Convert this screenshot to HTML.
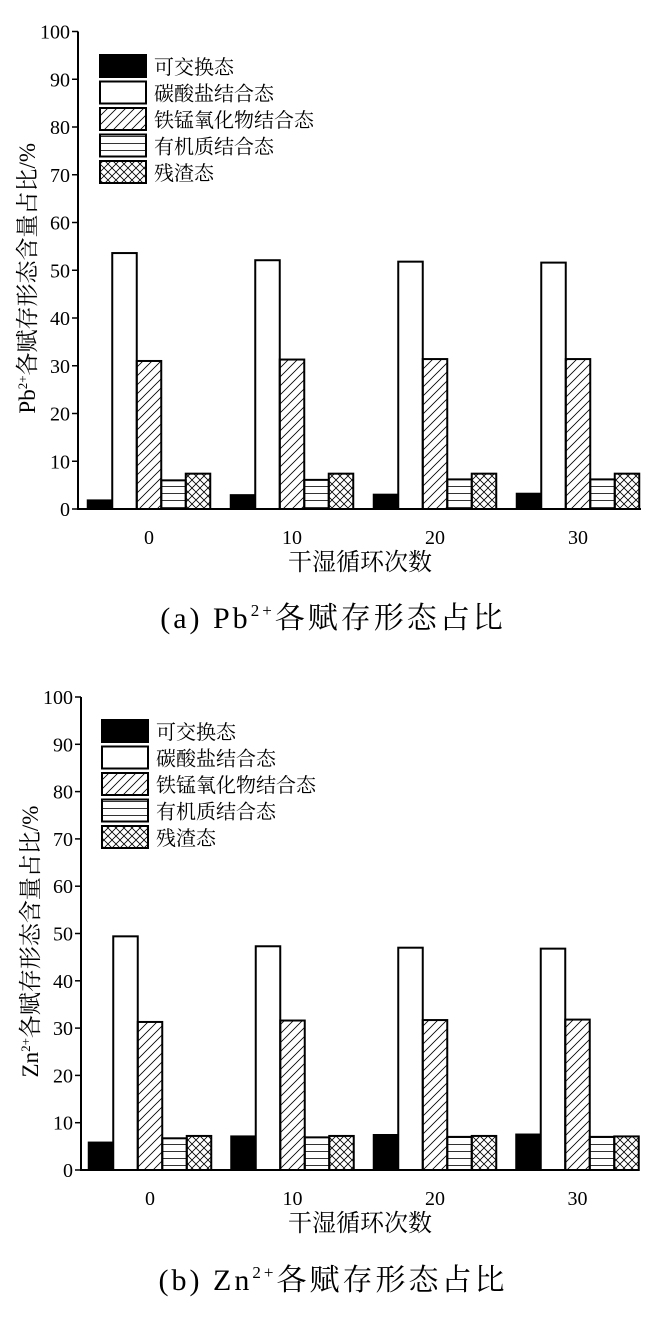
<!DOCTYPE html>
<html><head><meta charset="utf-8"><style>
body{margin:0;background:#fff;}
svg{display:block;font-family:"Liberation Serif","Noto Serif CJK SC","Noto Sans CJK SC",serif;}
</style></head><body>
<svg id="s" width="666" height="1317" viewBox="0 0 666 1317" xmlns="http://www.w3.org/2000/svg">
<defs>
<pattern id="diag" patternUnits="userSpaceOnUse" width="9" height="9"><path d="M-2,11 L11,-2 M-2,2 L2,-2 M7,11 L11,7" stroke="#000" stroke-width="0.8"/></pattern>
<pattern id="hz" patternUnits="userSpaceOnUse" width="10" height="7"><path d="M0,3.5 H10" stroke="#000" stroke-width="0.8"/></pattern>
<pattern id="xh" patternUnits="userSpaceOnUse" width="8" height="8"><path d="M0,0 L8,8 M8,0 L0,8" stroke="#000" stroke-width="0.8"/></pattern>
</defs>
</svg>
<script>
const categories = ["0","10","20","30"];
const seriesNames = ["可交换态","碳酸盐结合态","铁锰氧化物结合态","有机质结合态","残渣态"];
const yTicks = [0,10,20,30,40,50,60,70,80,90,100];
const pbExch = [1.8,2.9,3.0,3.2];
const pbCarb = [53.6,52.1,51.8,51.6];
const pbFeMn = [31.0,31.3,31.4,31.4];
const pbOrg = [6.0,6.1,6.2,6.2];
const pbRes = [7.4,7.4,7.4,7.4];
const znExch = [5.8,7.1,7.4,7.5];
const znCarb = [49.4,47.3,47.0,46.8];
const znFeMn = [31.3,31.6,31.7,31.8];
const znOrg = [6.7,6.9,7.0,7.0];
const znRes = [7.2,7.2,7.2,7.1];

const fills = ["#000","#fff","url(#diag)","url(#hz)","url(#xh)"];
const svg = document.getElementById('s');
const NS = "http://www.w3.org/2000/svg";
function mk(tag, attrs, parent){const e=document.createElementNS(NS,tag);for(const k in attrs)e.setAttribute(k,attrs[k]);(parent||svg).appendChild(e);return e;}

function chart(cfg){
  const g = mk('g',{});
  
  
  const y = v => cfg.y0 - (cfg.y0-cfg.y100)*v/100;
  const xc = i => cfg.c0 + i*cfg.step;
  const bw = 24.5;
  cfg.series.forEach((arr,s)=>{
    arr.forEach((v,i)=>{
      const x = xc(i) - 2.5*bw + s*bw;
      const r = mk('rect',{x:x,y:y(v),width:bw,height:cfg.y0-y(v),fill:fills[s],stroke:'#000','stroke-width':2},g);
      
      
    });
  });
  const ax = mk('path',{d:`M${cfg.ax},${cfg.y100} V${cfg.y0} H${cfg.xr}`,stroke:'#000','stroke-width':2,fill:'none'},g);
  
  
  yTicks.forEach(t=>{
    mk('line',{x1:cfg.ax-6,x2:cfg.ax,y1:y(t),y2:y(t),stroke:'#000','stroke-width':1.5},g);
    const tx = mk('text',{x:cfg.ax-8,y:y(t)+7,'text-anchor':'end','font-size':20},g);
    tx.textContent = t;
    
    
  });
  categories.forEach((c,i)=>{
    const tx = mk('text',{x:xc(i),y:cfg.y0+35,'text-anchor':'middle','font-size':20},g);
    tx.textContent = c;
    
    
  });
  const xt = mk('text',{x:360,y:cfg.y0+61,'text-anchor':'middle','font-size':24},g);
  xt.textContent = '干湿循环次数';
  
  
  const yc = (cfg.y0+cfg.y100)/2 + 8;
  const yt = mk('text',{x:0,y:0,'text-anchor':'middle','font-size':23,transform:`translate(${cfg.ax-43},${yc}) rotate(-90)`},g);
  yt.innerHTML = cfg.ion+'<tspan dy="-8" font-size="13">2+</tspan><tspan dy="8">各赋存形态含量占比/%</tspan>';
  
  
  seriesNames.forEach((n,s)=>{
    const ly = cfg.leg + s*26.5;
    const r = mk('rect',{x:cfg.lx,y:ly,width:46,height:22,fill:fills[s],stroke:'#000','stroke-width':2},g);
    
    
    const t = mk('text',{x:cfg.lx+54,y:ly+19,'font-size':20},g);
    t.textContent = n;
    
    
  });
  const cap = mk('text',{x:333,y:cfg.cap,'text-anchor':'middle','font-size':30,'letter-spacing':'3'},g);
  cap.innerHTML = cfg.capPre+cfg.ion+'<tspan dy="-12" font-size="17">2+</tspan><tspan dy="12">各赋存形态占比</tspan>';
  
  
}

chart({name:'pb-chart',key:'pb',ion:'Pb',capPre:'(a) ',series:[pbExch,pbCarb,pbFeMn,pbOrg,pbRes],
  y0:509,y100:31.5,ax:78,xr:641,c0:149,step:143,leg:55,lx:100,cap:628});
chart({name:'zn-chart',key:'zn',ion:'Zn',capPre:'(b) ',series:[znExch,znCarb,znFeMn,znOrg,znRes],
  y0:1170,y100:697,ax:81,xr:639,c0:150,step:142.5,leg:720,lx:102,cap:1290});
</script>
</body></html>
